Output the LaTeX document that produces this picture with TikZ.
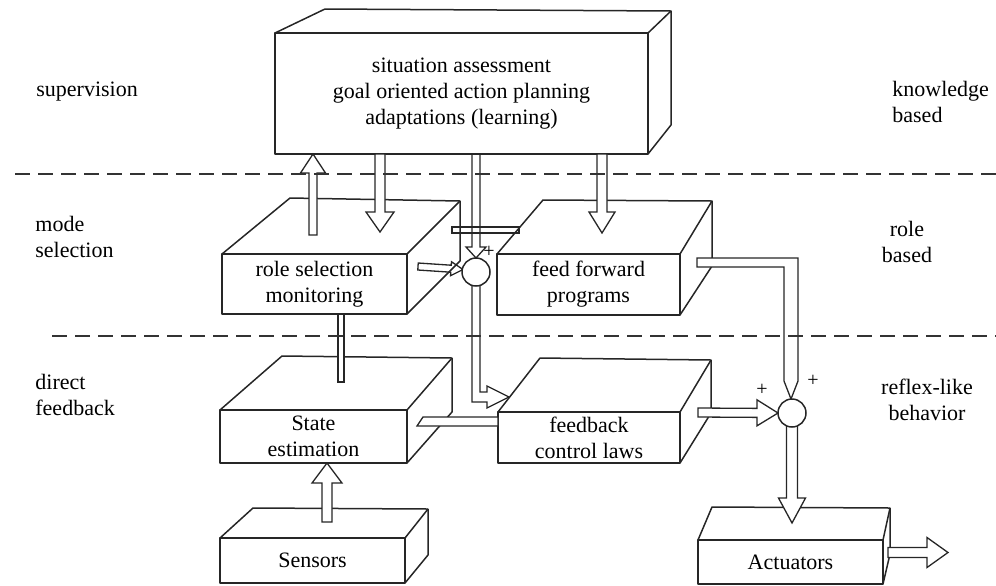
\documentclass[tikz,border=0pt]{standalone}
\usepackage{fontspec}
\setmainfont{Liberation Serif}
\usetikzlibrary{calc}

\tikzset{
  boxline/.style={draw=black!85, line width=0.75pt, line join=round},
  face/.style={boxline, rectangle, inner sep=0pt, outer sep=0pt, align=center,
    font=\fontsize{11}{13}\selectfont},
  hollow/.style={draw=black!85, line width=0.65pt, line join=miter, fill=white},
  hollowopen/.style={draw=black!85, line width=0.65pt, line join=miter},
  layerline/.style={draw=black!80, line width=1.1pt, dash pattern=on 7.5pt off 4pt},
  sidelabel/.style={font=\fontsize{11}{13}\selectfont, inner sep=0pt},
  junction/.style={circle, draw=black!85, line width=0.75pt, fill=white,
    minimum size=14pt, inner sep=0pt},
  plussign/.style={font=\fontsize{10}{10}\selectfont, inner sep=0pt},
}

% top face and right face of a box whose front face is node #1
\newcommand\prism[7]{%
  \draw[boxline] (#1.north west) -- ++(#2,#3) -- ($(#1.north east)+(#4,#5)$)
    -- ($(#1.south east)+(#6,#7)$) -- (#1.south east);
  \draw[boxline] (#1.north east) -- ++(#4,#5);
}

% outlined block arrow: [style] start, tip, shaft half width, head half width, head length
\newcommand\blockarrow[6][hollow]{%
  \coordinate (ba-h) at ($(#3)!#6!(#2)$);
  \draw[#1] ($(#2)!#4!90:(#3)$) -- ($(ba-h)!#4!90:(#3)$) -- ($(ba-h)!#5!90:(#3)$)
    -- (#3) -- ($(ba-h)!#5!-90:(#3)$) -- ($(ba-h)!#4!-90:(#3)$)
    -- ($(#2)!#4!-90:(#3)$) -- cycle;
}

\begin{document}
\begin{tikzpicture}[x=0.5pt, y=-0.5pt]
\useasboundingbox (0,0) rectangle (996,585);

% ---- boxes -------------------------------------------------------------
\node[face, minimum width=186.5pt, minimum height=60.5pt] (plan) at (461.5,93.5)
  {situation assessment\\goal oriented action planning\\adaptations (learning)};
\prism{plan}{50}{-24}{23}{-22}{23}{-29}

\node[face, minimum width=92.5pt, minimum height=30pt] (role) at (314.5,284)
  {role selection\\monitoring};
\prism{role}{68}{-56}{53}{-53}{53}{-53}

\node[face, minimum width=91.5pt, minimum height=30.5pt] (ffw) at (588.5,284.5)
  {feed forward\\programs};
\prism{ffw}{46}{-54}{32}{-53}{32}{-49}

\node[face, minimum width=93.5pt, minimum height=26.5pt] (state) at (313.5,436.5)
  {State\\estimation};
\prism{state}{62}{-54}{45}{-52}{45}{-51}

\node[face, minimum width=91pt, minimum height=25.5pt] (fbk) at (589,437.5)
  {feedback\\control laws};
\prism{fbk}{42}{-54}{31}{-52}{31}{-50}

\node[face, minimum width=92.5pt, minimum height=22.5pt] (sens) at (312.5,560.5)
  {Sensors};
\prism{sens}{33}{-30}{23}{-29}{23}{-28}

\node[face, minimum width=92.5pt, minimum height=22pt] (act) at (790.5,562)
  {Actuators};
\prism{act}{14}{-33}{7}{-32}{7}{-30}

% ---- summing points (centres) -------------------------------------------
\coordinate (c1) at (476,272);
\coordinate (c2) at (792,413);

% ---- connectors ----------------------------------------------------------
% role selection -> supervision
\coordinate (a1s) at (313,235);
\coordinate (a1t) at (a1s |- plan.south);
\blockarrow{a1s}{a1t}{2pt}{6.25pt}{9.5pt}

% supervision -> role selection
\coordinate (a2t) at (380,232);
\coordinate (a2s) at (a2t |- plan.south);
\blockarrow{a2s}{a2t}{2.5pt}{7pt}{10pt}

% supervision -> feed forward
\coordinate (a6t) at (602,233);
\coordinate (a6s) at (a6t |- plan.south);
\blockarrow{a6s}{a6t}{2.5pt}{6.5pt}{10.5pt}

% supervision -> summing point 1
\coordinate (a3t) at ($(c1)+(0,-14)$);
\coordinate (a3s) at (a3t |- plan.south);
\blockarrow[hollowopen]{a3s}{a3t}{2pt}{5pt}{5.5pt}

% role selection -> summing point 1
\coordinate (a4s) at (418,266.5);
\coordinate (a4t) at (463,269.5);
\blockarrow[hollowopen]{a4s}{a4t}{1.75pt}{3.5pt}{6pt}

% role selection -- feed forward
\coordinate (b5s) at (452,227);
\coordinate (b5t) at (519,233);
\draw[hollowopen] (b5s) rectangle (b5t);

% summing point 1 -> feedback control laws
\coordinate (a7t) at (509,397);
\draw[hollow] ($(c1)+(-4,0)$) -- (472,402) -- (487,402) -- (487,408) -- (a7t)
  -- (487,386) -- (487,392) -- (480,392) -- ($(c1)+(4,0)$) -- cycle;

% state estimation -- feedback control laws
\coordinate (b8e) at (fbk.west |- 0,417);
\draw[hollow] (423,417) -- (b8e) -- ++(0,9) -- (417,426) -- cycle;

% role selection -- state estimation
\coordinate (b9s) at (338,0 |- role.south);
\draw[hollow] (b9s) rectangle (344,382);

% sensors -> state estimation
\coordinate (a10s) at (327,522);
\coordinate (a10t) at (a10s |- state.south);
\blockarrow{a10s}{a10t}{2.5pt}{7.5pt}{10pt}

% feed forward -> summing point 2
\coordinate (a11t) at ($(c2)+(-1,-14)$);
\draw[hollow] (697,258) -- (798,258) -- (798,381) -- (a11t) -- (784,381)
  -- (784,267) -- (697,267) -- cycle;

% feedback control laws -> summing point 2
\coordinate (a12s) at (698,412.5);
\coordinate (a12t) at ($(c2)+(-14,0)$);
\blockarrow{a12s}{a12t}{2.25pt}{6.5pt}{10.5pt}

% summing point 2 -> actuators
\coordinate (a13t) at (792,523);
\blockarrow{c2}{a13t}{2.75pt}{6.75pt}{12.5pt}

% actuators -> output
\coordinate (a14s) at (888,552.5);
\coordinate (a14t) at (948,552.5);
\blockarrow{a14s}{a14t}{2.5pt}{7.5pt}{10.5pt}

% summing points on top of the incoming shafts
\node[junction] (sum1) at (c1) {};
\node[junction] (sum2) at (c2) {};
\node[plussign] (p1) at (489,252) {+};
\node[plussign] (p2) at (762,390) {+};
\node[plussign] (p3) at (813,381) {+};

% ---- level separators ----------------------------------------------------
\draw[layerline] (15,174) -- (996,174);
\draw[layerline] (52,336) -- (996,336);

% ---- level names ---------------------------------------------------------
\node[sidelabel, anchor=west] (l1) at (36,92) {supervision};
\node[sidelabel, anchor=west, align=left] (l2) at (35,237) {mode\\selection};
\node[sidelabel, anchor=west, align=left] (l3) at (35,395) {direct\\feedback};
\node[sidelabel, anchor=west, align=left] (r1) at (892,102) {knowledge\\based};
\node[sidelabel, align=center] (r2) at (907,242) {role\\based};
\node[sidelabel, align=center] (r3) at (927,400) {reflex-like\\behavior};
\end{tikzpicture}
\end{document}
